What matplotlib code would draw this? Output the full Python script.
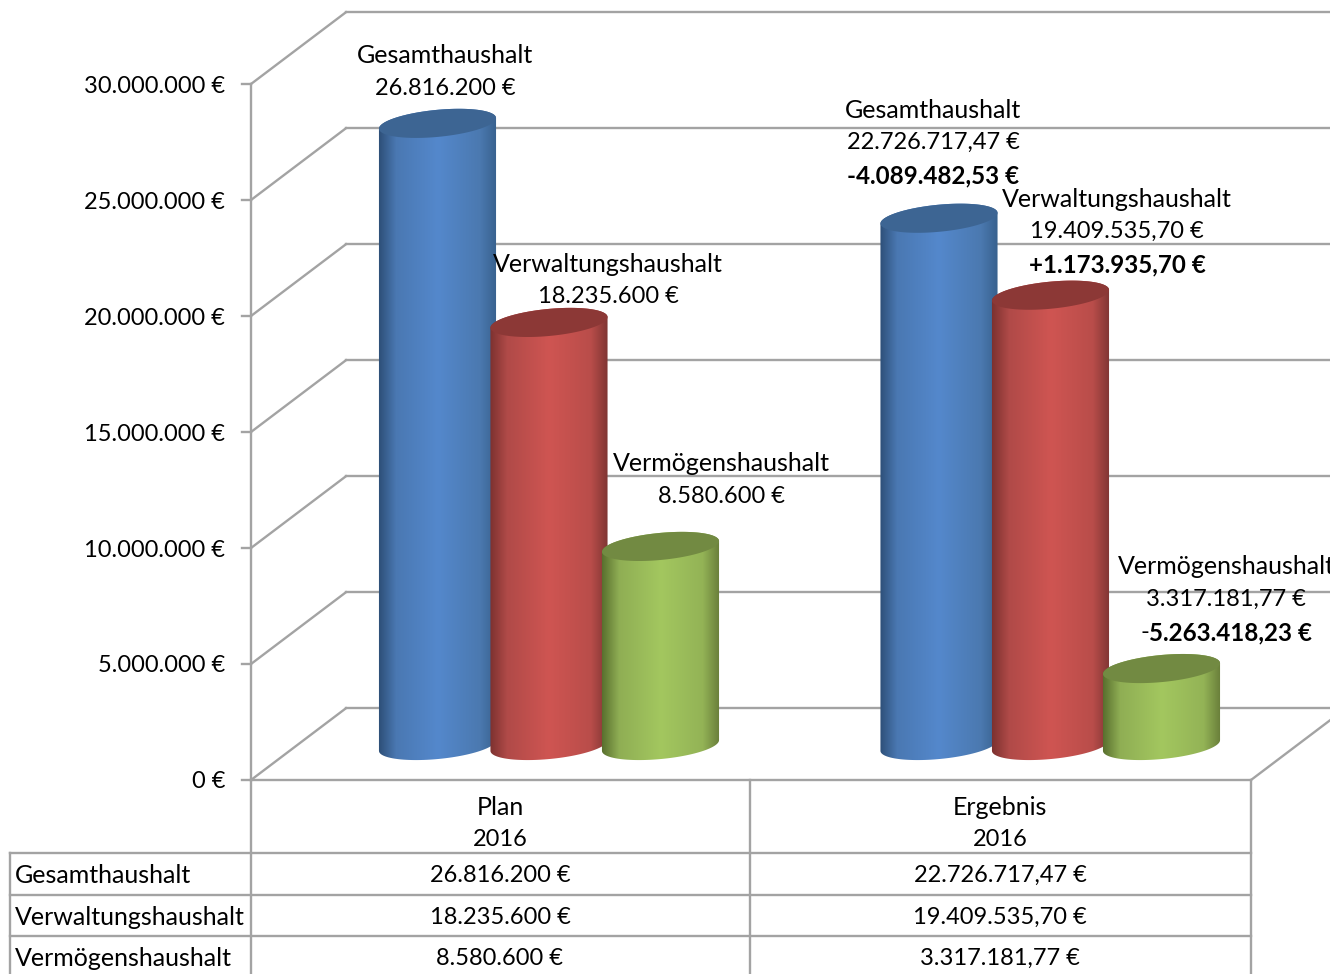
import numpy as np
import matplotlib
matplotlib.use("Agg")
import matplotlib.pyplot as plt
from matplotlib.colors import LinearSegmentedColormap
from matplotlib.patches import Polygon

# data
series = ["Gesamthaushalt", "Verwaltungshaushalt", "Vermögenshaushalt"]
plan_2016 = [26816200, 18235600, 8580600]
ergebnis_2016 = [22726717.47, 19409535.70, 3317181.77]
differenz = [-4089482.53, 1173935.70, -5263418.23]
y_ticks = [0, 5000000, 10000000, 15000000, 20000000, 25000000, 30000000]

plt.rcParams["font.family"] = ["Lato", "DejaVu Sans"]
FS = 17
FS_WORD = 18
FS_BOLD = 17.4

GRID = "#a3a3a3"
stop_pos = [0, 0.15, 0.5, 0.85, 1]
blue_stops = ["#2c4d75", "#4a78b2", "#5488cc", "#4b79b0", "#37608c"]
red_stops = ["#7a302e", "#b04a48", "#cf5552", "#b94d4a", "#7c3432"]
green_stops = ["#566c2c", "#8fae54", "#a3c75f", "#93b356", "#667a38"]
cap_colors = ["#3d6593", "#8c3836", "#728a42"]

# scale of the front wall: 30 Mio. spans 84..780 px
EUR_PER_PX = 30000000 / 696
FLOOR_Y = 780
DEPTH_X, DEPTH_Y = 95, 71.8
BASE_PX = 34.5  # bars stand this far behind the front edge
A, B, TILT = 58.8, 13.5, np.radians(5.5)


def de_eur(v, dec=0):
    s = f"{abs(v):,.{dec}f}".replace(",", "#").replace(".", ",").replace("#", ".")
    return s + " €"


fig = plt.figure(figsize=(1330 / 100, 974 / 100), dpi=100, facecolor="white")

# pixel layer for table and labels
ax = fig.add_axes([0, 0, 1, 1], zorder=3)
ax.set_xlim(0, 1330)
ax.set_ylim(974, 0)
ax.axis("off")
ax.patch.set_alpha(0)

# value layer, y in euro, x in pixels
chart = fig.add_axes([0, 0, 1, 1], zorder=1)
chart.set_xlim(0, 1330)
chart.set_ylim((FLOOR_Y - 974) * EUR_PER_PX, FLOOR_Y * EUR_PER_PX)
chart.axis("off")
depth_eur = DEPTH_Y * EUR_PER_PX
line_kw = dict(color=GRID, lw=1.7, solid_capstyle="projecting")

# walls
for t in y_ticks:
    chart.plot([242, 251], [t, t], **line_kw)
    chart.plot([251, 251 + DEPTH_X], [t, t + depth_eur], **line_kw)
    chart.plot([251 + DEPTH_X, 1340], [t + depth_eur, t + depth_eur], **line_kw)
chart.plot([251, 251], [min(y_ticks), max(y_ticks)], **line_kw)
chart.plot([251, 1251], [0, 0], **line_kw)
chart.plot([1251, 1251 + DEPTH_X], [0, depth_eur], **line_kw)


def ellipse_xy(xc, yc, t):
    # rotated ellipse in pixel units, yc in euro
    dx = A * np.cos(t) * np.cos(TILT) - B * np.sin(t) * np.sin(TILT)
    dy = A * np.cos(t) * np.sin(TILT) + B * np.sin(t) * np.cos(TILT)
    return xc + dx, yc + dy * EUR_PER_PX


def cylinder(xc, value, stops, cap, z):
    y0 = BASE_PX * EUR_PER_PX
    y1 = y0 + value
    t_right = np.arctan2(-B * np.sin(TILT), A * np.cos(TILT))
    upper = np.linspace(t_right, t_right + np.pi, 60)
    lower = np.linspace(t_right + np.pi, t_right + 2 * np.pi, 60)
    xt, yt = ellipse_xy(xc, y1, upper)
    xb, yb = ellipse_xy(xc, y0, lower)
    outline = np.column_stack([np.r_[xt, xb], np.r_[yt, yb]])
    body = Polygon(outline, closed=True, fc="none", ec="none", zorder=z)
    chart.add_patch(body)
    cmap = LinearSegmentedColormap.from_list("cyl", list(zip(stop_pos, stops)))
    grad = np.linspace(0, 1, 256).reshape(1, -1)
    im = chart.imshow(grad, cmap=cmap, aspect="auto", interpolation="bilinear", zorder=z,
                      extent=[xc - A - 1, xc + A + 1, y0 - 20 * EUR_PER_PX, y1 + 20 * EUR_PER_PX])
    im.set_clip_path(body)
    tt = np.linspace(0, 2 * np.pi, 120)
    xc2, yc2 = ellipse_xy(xc, y1, tt)
    chart.add_patch(Polygon(np.column_stack([xc2, yc2]), closed=True, fc=cap, ec="none", zorder=z + 0.1))


plan_x = [437.5, 549, 660.5]
erg_x = [939, 1050.5, 1161.5]
all_stops = [blue_stops, red_stops, green_stops]
for group_x, values in [(plan_x, plan_2016), (erg_x, ergebnis_2016)]:
    for i in range(3):
        cylinder(group_x[i], values[i], all_stops[i], cap_colors[i], 5 + i)
chart.set_xlim(0, 1330)
chart.set_ylim((FLOOR_Y - 974) * EUR_PER_PX, FLOOR_Y * EUR_PER_PX)

# y axis labels
for t in y_ticks:
    chart.text(225, t - 2 * EUR_PER_PX, de_eur(t), ha="right", va="center", fontsize=FS, color="black", zorder=10)


def label(x, y, s, size=FS, bold=False, ha="center"):
    ax.text(x, y + 1.5, s, ha=ha, va="center", fontsize=size, color="black",
            fontweight="bold" if bold else "normal")


# data labels
label(445, 54, series[0], FS_WORD)
label(445, 87, de_eur(plan_2016[0]))
label(608, 263, series[1], FS_WORD)
label(608, 295, de_eur(plan_2016[1]))
label(721, 462, series[2], FS_WORD)
label(721, 495, de_eur(plan_2016[2]))

label(933, 109, series[0], FS_WORD)
label(933, 141, de_eur(ergebnis_2016[0], 2))
label(933, 174, "-" + de_eur(differenz[0], 2), FS_BOLD, bold=True)
label(1117, 198, series[1], FS_WORD)
label(1117, 230, de_eur(ergebnis_2016[1], 2))
label(1117, 263, "+" + de_eur(differenz[1], 2), FS_BOLD, bold=True)
label(1226, 565, series[2], FS_WORD)
label(1226, 598, de_eur(ergebnis_2016[2], 2))
label(1149, 631, "-", ha="right")
label(1149, 631, de_eur(differenz[2], 2), FS_BOLD, bold=True, ha="left")

# data table below the chart
tbl_kw = dict(color=GRID, lw=1.7, solid_capstyle="projecting")
for y in [853, 895, 936]:
    ax.plot([10, 1251], [y, y], **tbl_kw)
ax.plot([10, 10], [853, 980], **tbl_kw)
for x in [251, 750, 1251]:
    ax.plot([x, x], [780, 980], **tbl_kw)

label(500, 806, "Plan", FS_WORD)
label(500, 838, "2016")
label(1000, 806, "Ergebnis", FS_WORD)
label(1000, 838, "2016")
row_y = [874, 916, 957]
for i in range(3):
    label(15, row_y[i], series[i], FS_WORD, ha="left")
    label(500, row_y[i], de_eur(plan_2016[i]))
    label(1000, row_y[i], de_eur(ergebnis_2016[i], 2))

ax.set_xlim(0, 1330)
ax.set_ylim(974, 0)
fig.savefig("out.png", dpi=100)
